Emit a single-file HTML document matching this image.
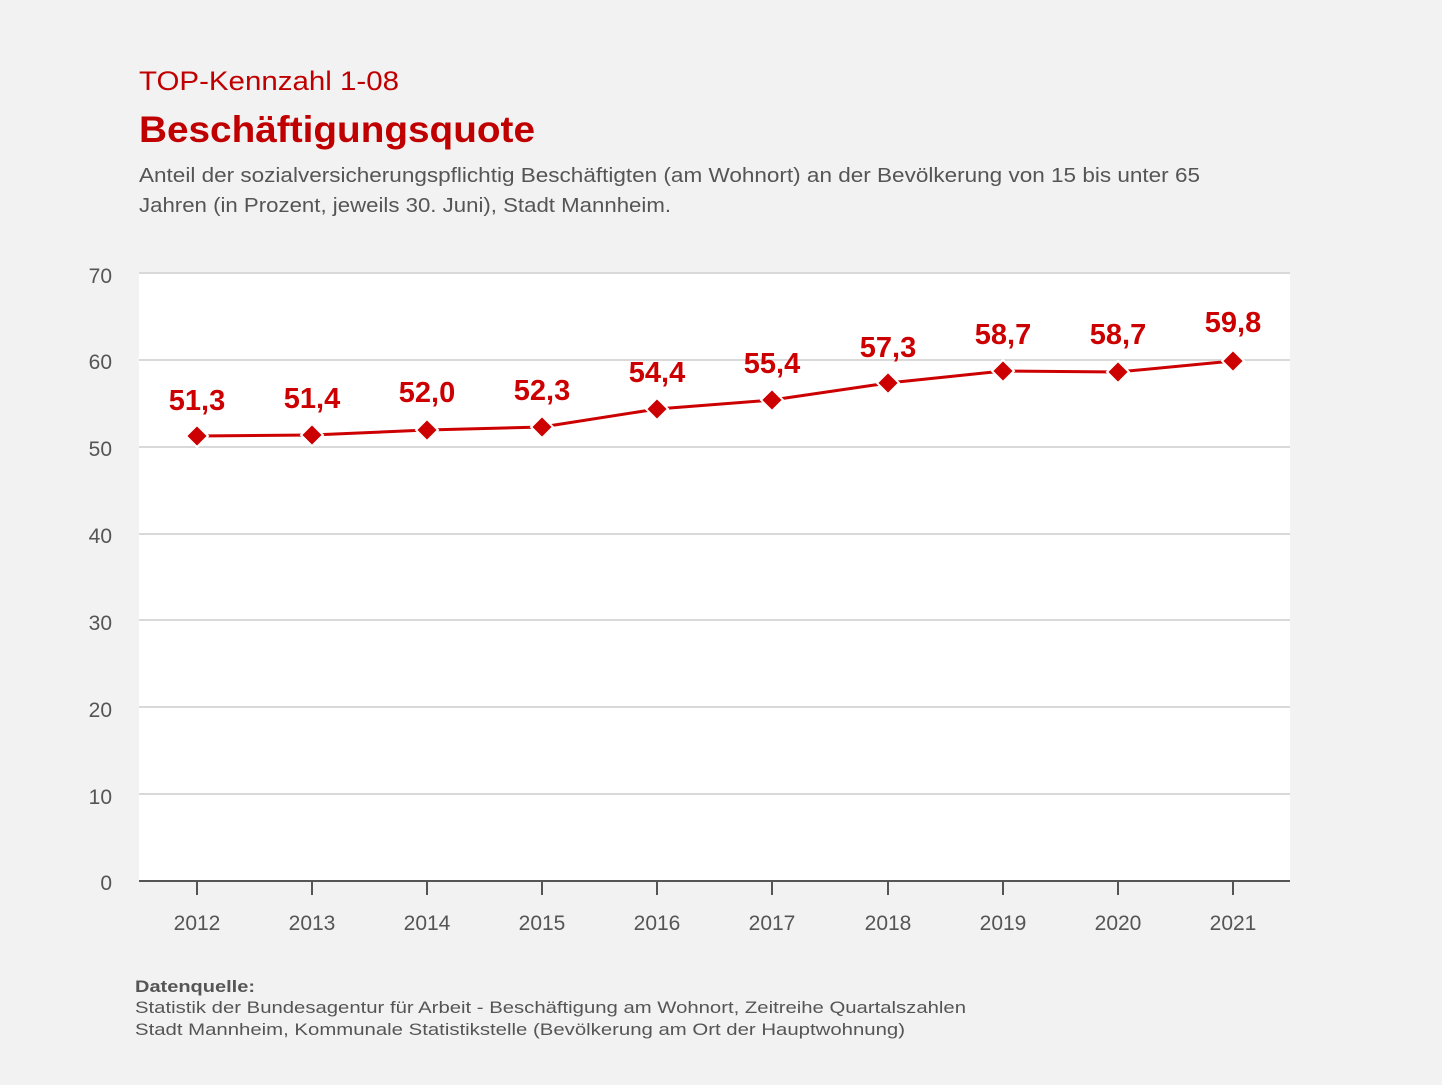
<!DOCTYPE html>
<html><head><meta charset="utf-8"><style>
body{margin:0;background:#f2f2f2;width:1442px;height:1080px;overflow:hidden;font-family:"Liberation Sans",sans-serif}
</style></head><body>
<svg width="1442" height="1080" xmlns="http://www.w3.org/2000/svg" font-family="Liberation Sans, sans-serif">
<rect width="1442" height="1080" fill="#f2f2f2"/>
<text x="139" y="90" font-size="27" fill="#c00000" textLength="260" lengthAdjust="spacingAndGlyphs">TOP-Kennzahl 1-08</text>
<text x="139" y="142" font-size="37" font-weight="bold" fill="#c00000" textLength="396" lengthAdjust="spacingAndGlyphs">Beschäftigungsquote</text>
<text x="139" y="182" font-size="20" fill="#555" textLength="1061" lengthAdjust="spacingAndGlyphs">Anteil der sozialversicherungspflichtig Beschäftigten (am Wohnort) an der Bevölkerung von 15 bis unter 65</text>
<text x="139" y="212" font-size="20" fill="#555" textLength="532" lengthAdjust="spacingAndGlyphs">Jahren (in Prozent, jeweils 30. Juni), Stadt Mannheim.</text>
<rect x="139" y="273" width="1151" height="608" fill="#fff"/>
<g stroke="#d9d9d9" stroke-width="2">
<line x1="139" x2="1290" y1="273" y2="273"/><line x1="139" x2="1290" y1="360" y2="360"/>
<line x1="139" x2="1290" y1="447" y2="447"/><line x1="139" x2="1290" y1="534" y2="534"/>
<line x1="139" x2="1290" y1="620" y2="620"/><line x1="139" x2="1290" y1="707" y2="707"/>
<line x1="139" x2="1290" y1="794" y2="794"/></g>
<g stroke="#555" stroke-width="2"><line x1="139" x2="1290" y1="881" y2="881"/>
<line x1="197" x2="197" y1="881" y2="895"/><line x1="312" x2="312" y1="881" y2="895"/>
<line x1="427" x2="427" y1="881" y2="895"/><line x1="542" x2="542" y1="881" y2="895"/>
<line x1="657" x2="657" y1="881" y2="895"/><line x1="772" x2="772" y1="881" y2="895"/>
<line x1="888" x2="888" y1="881" y2="895"/><line x1="1003" x2="1003" y1="881" y2="895"/>
<line x1="1118" x2="1118" y1="881" y2="895"/><line x1="1233" x2="1233" y1="881" y2="895"/></g>
<g font-size="21" fill="#555" text-anchor="end">
<text x="112" y="283">70</text><text x="112" y="369">60</text><text x="112" y="456">50</text>
<text x="112" y="543">40</text><text x="112" y="630">30</text><text x="112" y="717">20</text>
<text x="112" y="804">10</text><text x="112" y="890">0</text></g>
<g font-size="21" fill="#555" text-anchor="middle">
<text x="197" y="930">2012</text><text x="312" y="930">2013</text><text x="427" y="930">2014</text>
<text x="542" y="930">2015</text><text x="657" y="930">2016</text><text x="772" y="930">2017</text>
<text x="888" y="930">2018</text><text x="1003" y="930">2019</text><text x="1118" y="930">2020</text>
<text x="1233" y="930">2021</text></g>
<polyline fill="none" stroke="#cc0000" stroke-width="3" points="197,436 312,435 427,430 542,427 657,409 772,400 888,383 1003,371 1118,372 1233,361"/>
<g fill="#cc0000" stroke="#fff" stroke-width="2">
<path d="M197,425 l11,11 -11,11 -11,-11z"/><path d="M312,424 l11,11 -11,11 -11,-11z"/>
<path d="M427,419 l11,11 -11,11 -11,-11z"/><path d="M542,416 l11,11 -11,11 -11,-11z"/>
<path d="M657,398 l11,11 -11,11 -11,-11z"/><path d="M772,389 l11,11 -11,11 -11,-11z"/>
<path d="M888,372 l11,11 -11,11 -11,-11z"/><path d="M1003,360 l11,11 -11,11 -11,-11z"/>
<path d="M1118,361 l11,11 -11,11 -11,-11z"/><path d="M1233,350 l11,11 -11,11 -11,-11z"/></g>
<g font-size="29" font-weight="bold" fill="#cc0000" text-anchor="middle">
<text x="197" y="410">51,3</text><text x="312" y="408">51,4</text><text x="427" y="402">52,0</text>
<text x="542" y="400">52,3</text><text x="657" y="382">54,4</text><text x="772" y="373">55,4</text>
<text x="888" y="357">57,3</text><text x="1003" y="344">58,7</text><text x="1118" y="344">58,7</text>
<text x="1233" y="332">59,8</text></g>
<text x="135" y="992" font-size="17" font-weight="bold" fill="#555" textLength="120" lengthAdjust="spacingAndGlyphs">Datenquelle:</text>
<text x="135" y="1013" font-size="17" fill="#555" textLength="831" lengthAdjust="spacingAndGlyphs">Statistik der Bundesagentur für Arbeit - Beschäftigung am Wohnort, Zeitreihe Quartalszahlen</text>
<text x="135" y="1035" font-size="17" fill="#555" textLength="770" lengthAdjust="spacingAndGlyphs">Stadt Mannheim, Kommunale Statistikstelle (Bevölkerung am Ort der Hauptwohnung)</text>
</svg>
</body></html>
